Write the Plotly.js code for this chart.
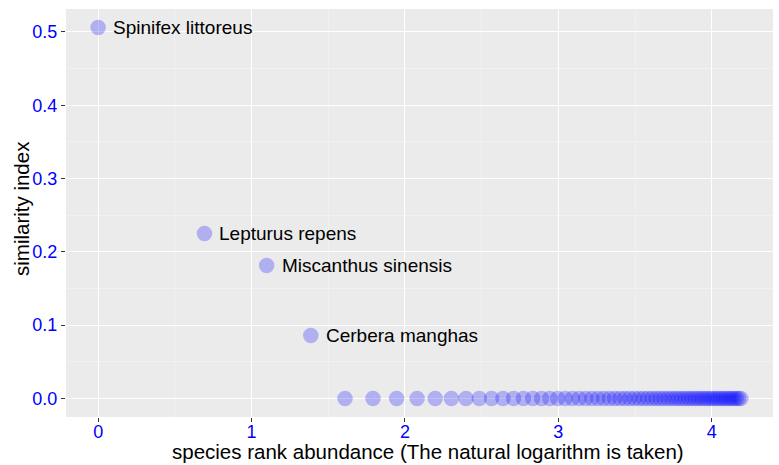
<!DOCTYPE html>
<html>
<head>
<meta charset="utf-8">
<script src="https://cdn.plot.ly/plotly-3.0.1.min.js"></script>
<style>html,body{margin:0;padding:0;background:#fff;}#chart{width:779px;height:465px;}</style>
</head>
<body>
<div id="chart"></div>
<script>
// species rank (x axis shows natural log of rank)
var ranks = [1,2,3,4,5,6,7,8,9,10,11,12,13,14,15,16,17,18,19,20,
  21,22,23,24,25,26,27,28,29,30,31,32,33,34,35,36,37,38,39,40,
  41,42,43,44,45,46,47,48,49,50,51,52,53,54,55,56,57,58,59,60,
  61,62,63,64,65,66];
var similarity = [0.506,0.225,0.1815,0.086,0,0,0,0,0,0,0,0,0,0,0,0,0,0,0,0,
  0,0,0,0,0,0,0,0,0,0,0,0,0,0,0,0,0,0,0,0,
  0,0,0,0,0,0,0,0,0,0,0,0,0,0,0,0,0,0,0,0,
  0,0,0,0,0,0];
var labelNames = ["Spinifex littoreus","Lepturus repens","Miscanthus sinensis","Cerbera manghas"];
var xTickVals = [0,1,2,3,4];
var yTickVals = [0,0.1,0.2,0.3,0.4,0.5];
var xTitle = 'species rank abundance (The natural logarithm is taken)';
var yTitle = 'similarity index';

var logRank = ranks.map(function(r){return Math.log(r);});
var fontFam = 'Liberation Sans, Arial, sans-serif';

var trace = {
  x: logRank,
  y: similarity,
  mode: 'markers',
  type: 'scatter',
  marker: {size: 15.5, color: 'rgba(0,0,255,0.25)', line: {width: 0}},
  hoverinfo: 'skip'
};

var annotations = labelNames.map(function(n, i){
  return {x: logRank[i], y: similarity[i], text: n, showarrow: false,
    xanchor: 'left', yanchor: 'middle', xshift: 13, yshift: 0,
    font: {family: fontFam, size: 19, color: '#000'}};
});
annotations.push({xref: 'paper', yref: 'paper', x: 0.5, y: 0, xanchor: 'center', yanchor: 'top',
  xshift: 8, yshift: -21, showarrow: false, text: xTitle,
  font: {family: fontFam, size: 20.5, color: '#000'}});
annotations.push({xref: 'paper', yref: 'paper', x: 0, y: 0.5, xanchor: 'center', yanchor: 'middle',
  xshift: -45, yshift: 4, showarrow: false, text: yTitle, textangle: -90,
  font: {family: fontFam, size: 20.5, color: '#000'}});

var layout = {
  width: 779, height: 465,
  margin: {l: 66, r: 6, t: 9, b: 48},
  paper_bgcolor: '#ffffff',
  plot_bgcolor: '#EBEBEB',
  showlegend: false,
  font: {family: fontFam},
  xaxis: {
    range: [-0.2095, 4.3995],
    tickvals: xTickVals,
    ticktext: xTickVals.map(String),
    showgrid: true, gridcolor: '#ffffff', gridwidth: 1.1,
    minor: {dtick: 0.5, tick0: 0, showgrid: true, gridcolor: '#f5f5f5', gridwidth: 0.6, ticks: ''},
    zeroline: false, showline: false,
    ticks: 'outside', ticklen: 4, tickcolor: '#333333', tickwidth: 1,
    ticklabelstandoff: -6,
    tickfont: {family: fontFam, size: 18, color: '#0000ff'}
  },
  yaxis: {
    range: [-0.0253, 0.5313],
    tickvals: yTickVals,
    ticktext: yTickVals.map(function(v){return v.toFixed(1);}),
    showgrid: true, gridcolor: '#ffffff', gridwidth: 1.1,
    minor: {dtick: 0.05, tick0: 0, showgrid: true, gridcolor: '#f5f5f5', gridwidth: 0.6, ticks: ''},
    zeroline: false, showline: false,
    ticks: 'outside', ticklen: 4, tickcolor: '#333333', tickwidth: 1,
    tickfont: {family: fontFam, size: 18, color: '#0000ff'}
  },
  annotations: annotations
};

Plotly.newPlot('chart', [trace], layout, {staticPlot: true, displayModeBar: false});
</script>
</body>
</html>
